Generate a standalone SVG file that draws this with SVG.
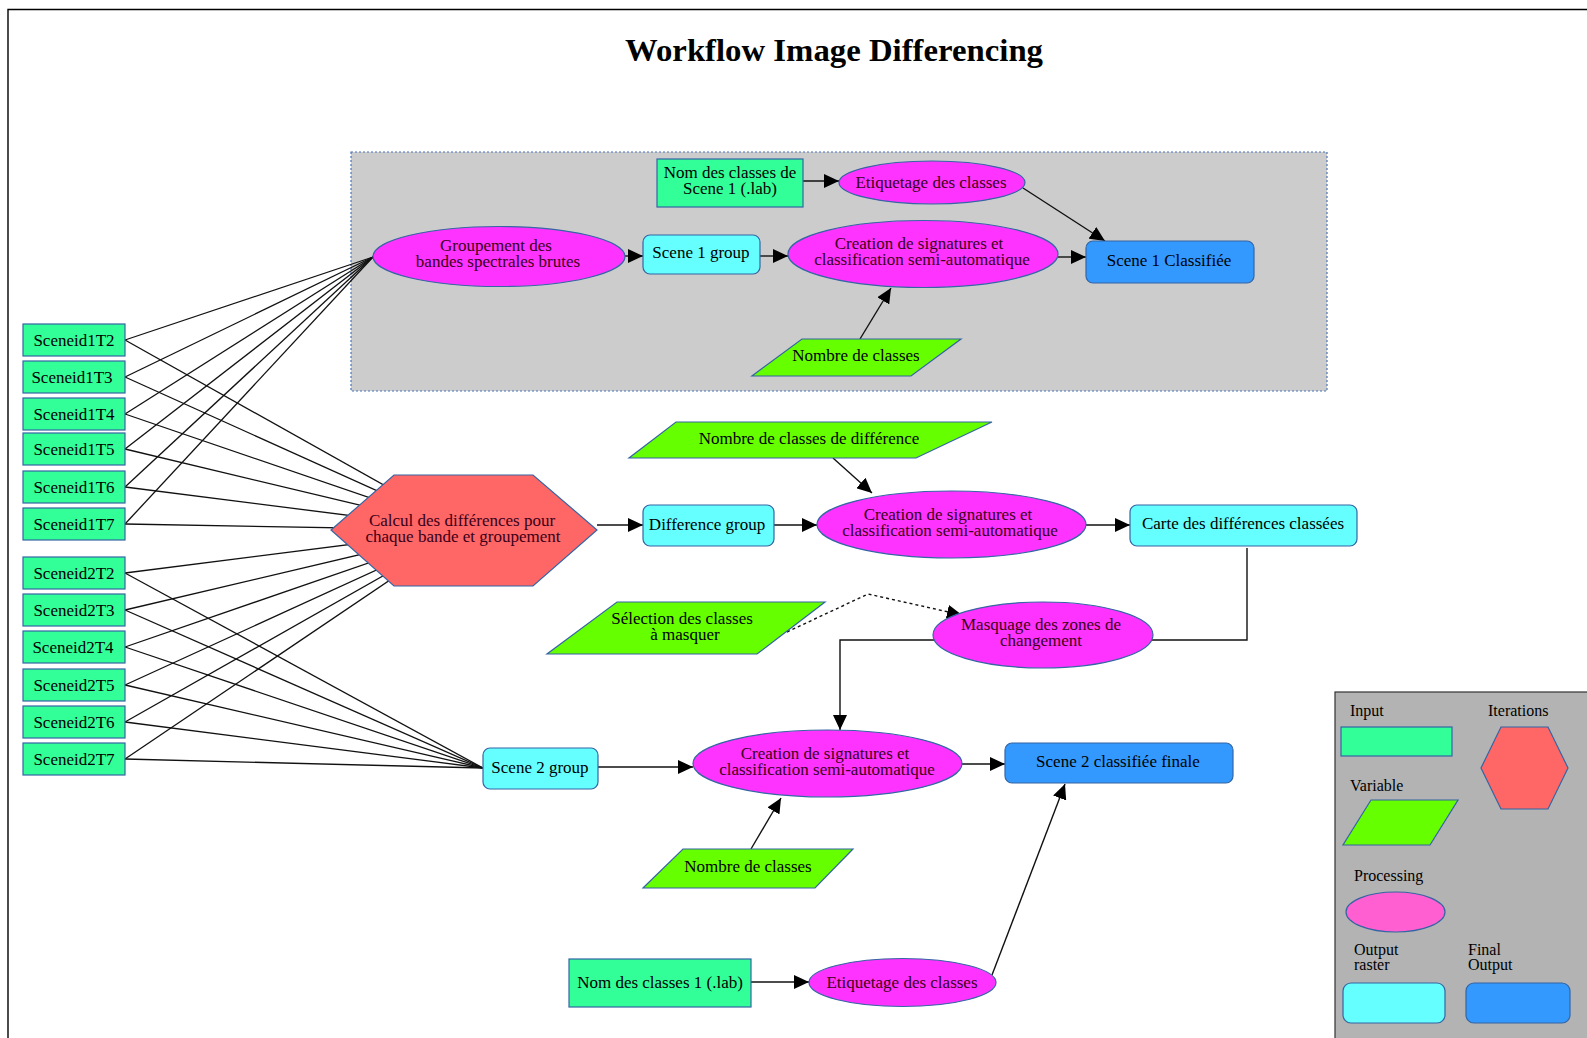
<svg xmlns="http://www.w3.org/2000/svg" width="1587" height="1038" viewBox="0 0 1587 1038">
<style>
text{font-family:"Liberation Serif","DejaVu Serif",serif;font-size:17px;text-anchor:middle;fill:#000}
.title{font-size:32px;font-weight:bold}
.pt{fill:#3a0018}
.inp{fill:#33ff99;stroke:#3465a4;stroke-width:1.2}
.var{fill:#66ff00;stroke:#3465a4;stroke-width:1.2}
.proc{fill:#ff33ff;stroke:#3465a4;stroke-width:1.2}
.out{fill:#66ffff;stroke:#3465a4;stroke-width:1.2}
.fin{fill:#3399ff;stroke:#3465a4;stroke-width:1.2}
.iter{fill:#ff6666;stroke:#3465a4;stroke-width:1.2}
.ln{stroke:#111;stroke-width:1.3;fill:none}
.ar{stroke:#111;stroke-width:1.4;fill:none;marker-end:url(#ah)}
.dot{stroke:#111;stroke-width:1.4;fill:none;stroke-dasharray:3 3;marker-end:url(#ah)}
.lg{text-anchor:start;font-size:16px}
</style>
<defs>
<marker id="ah" markerUnits="userSpaceOnUse" markerWidth="16" markerHeight="14" refX="15" refY="7" orient="auto">
<path d="M0,0 L15,7 L0,14 z" fill="#000"/>
</marker>
</defs>
<rect width="1587" height="1038" fill="#fff"/>
<path d="M8,1038 L8,9.5 L1587,9.5" fill="none" stroke="#000" stroke-width="1.4"/>
<text class="title" x="834" y="61" textLength="418" lengthAdjust="spacingAndGlyphs">Workflow Image Differencing</text>

<g id="cluster1">
<rect x="351" y="152" width="976" height="239" fill="#cccccc" stroke="#4a74b5" stroke-width="1.2" stroke-dasharray="2 2"/>
</g>

<g id="connectors">
<line class="ln" x1="125" y1="340" x2="373" y2="257"/>
<line class="ln" x1="125" y1="377" x2="373" y2="257"/>
<line class="ln" x1="125" y1="414" x2="373" y2="257"/>
<line class="ln" x1="125" y1="449" x2="373" y2="257"/>
<line class="ln" x1="125" y1="487" x2="373" y2="257"/>
<line class="ln" x1="125" y1="524" x2="373" y2="257"/>
<line class="ln" x1="125" y1="340" x2="464" y2="530"/>
<line class="ln" x1="125" y1="377" x2="464" y2="530"/>
<line class="ln" x1="125" y1="414" x2="464" y2="530"/>
<line class="ln" x1="125" y1="449" x2="464" y2="530"/>
<line class="ln" x1="125" y1="487" x2="464" y2="530"/>
<line class="ln" x1="125" y1="524" x2="464" y2="530"/>
<line class="ln" x1="125" y1="573" x2="464" y2="530"/>
<line class="ln" x1="125" y1="610" x2="464" y2="530"/>
<line class="ln" x1="125" y1="647" x2="464" y2="530"/>
<line class="ln" x1="125" y1="685" x2="464" y2="530"/>
<line class="ln" x1="125" y1="722" x2="464" y2="530"/>
<line class="ln" x1="125" y1="759" x2="464" y2="530"/>
<line class="ln" x1="125" y1="573" x2="483" y2="768"/>
<line class="ln" x1="125" y1="610" x2="483" y2="768"/>
<line class="ln" x1="125" y1="647" x2="483" y2="768"/>
<line class="ln" x1="125" y1="685" x2="483" y2="768"/>
<line class="ln" x1="125" y1="722" x2="483" y2="768"/>
<line class="ln" x1="125" y1="759" x2="483" y2="768"/>
<path class="ar" d="M803,181 L839,181"/>
<path class="ar" d="M1023,188 L1105,241"/>
<path class="ar" d="M624,256 L643,256"/>
<path class="ar" d="M760,256 L788,256"/>
<path class="ar" d="M1058,257 L1086,257"/>
<path class="ar" d="M860,339 L891,288"/>
<path class="ar" d="M833,458 L872,493"/>
<path class="ar" d="M597,525 L643,525"/>
<path class="ar" d="M774,525 L817,525"/>
<path class="ar" d="M1086,525 L1130,525"/>
<path class="dot" d="M787,632 L868,594 L962,615"/>
<path class="ar" d="M1247,548 L1247,640 L840,640 L840,730"/>
<path class="ar" d="M598,767 L693,767"/>
<path class="ar" d="M962,764 L1005,764"/>
<path class="ar" d="M751,849 L781,798"/>
<path class="ar" d="M751,982 L809,982"/>
<path class="ar" d="M992,975 L1065,784"/>
</g>

<g id="nom_classes_scene1"><rect class="inp" x="657" y="159" width="146" height="48"/><text x="730" y="178">Nom des classes de</text><text x="730" y="194">Scene 1 (.lab)</text></g>
<g id="etiquetage1"><ellipse class="proc" cx="932" cy="182.5" rx="93" ry="21.5"/><text class="pt" x="931" y="188">Etiquetage des classes</text></g>
<g id="groupement"><ellipse class="proc" cx="499" cy="256.5" rx="126" ry="30"/><text class="pt" x="496" y="251">Groupement des</text><text class="pt" x="498" y="267">bandes spectrales brutes</text></g>
<g id="scene1_group"><rect class="out" x="643" y="235" width="117" height="39" rx="7"/><text x="701" y="258">Scene 1 group</text></g>
<g id="creation1"><ellipse class="proc" cx="923" cy="254" rx="135" ry="33.5"/><text class="pt" x="919" y="249">Creation de signatures et</text><text class="pt" x="922" y="265">classification semi-automatique</text></g>
<g id="scene1_classifiee"><rect class="fin" x="1086" y="241" width="168" height="42" rx="7"/><text x="1169" y="266">Scene 1 Classifiée</text></g>
<g id="nombre_classes1"><polygon class="var" points="802,339 961,339 911,376 752,376"/><text x="856" y="361">Nombre de classes</text></g>

<g id="sceneid1T2"><rect class="inp" x="23" y="324" width="102" height="32"/><text x="74" y="346">Sceneid1T2</text></g>
<g id="sceneid1T3"><rect class="inp" x="23" y="361" width="102" height="32"/><text x="72" y="383">Sceneid1T3</text></g>
<g id="sceneid1T4"><rect class="inp" x="23" y="398" width="102" height="32"/><text x="74" y="420">Sceneid1T4</text></g>
<g id="sceneid1T5"><rect class="inp" x="23" y="433" width="102" height="32"/><text x="74" y="455">Sceneid1T5</text></g>
<g id="sceneid1T6"><rect class="inp" x="23" y="471" width="102" height="32"/><text x="74" y="493">Sceneid1T6</text></g>
<g id="sceneid1T7"><rect class="inp" x="23" y="508" width="102" height="32"/><text x="74" y="530">Sceneid1T7</text></g>
<g id="sceneid2T2"><rect class="inp" x="23" y="557" width="102" height="32"/><text x="74" y="579">Sceneid2T2</text></g>
<g id="sceneid2T3"><rect class="inp" x="23" y="594" width="102" height="32"/><text x="74" y="616">Sceneid2T3</text></g>
<g id="sceneid2T4"><rect class="inp" x="23" y="631" width="102" height="32"/><text x="73" y="653">Sceneid2T4</text></g>
<g id="sceneid2T5"><rect class="inp" x="23" y="669" width="102" height="32"/><text x="74" y="691">Sceneid2T5</text></g>
<g id="sceneid2T6"><rect class="inp" x="23" y="706" width="102" height="32"/><text x="74" y="728">Sceneid2T6</text></g>
<g id="sceneid2T7"><rect class="inp" x="23" y="743" width="102" height="32"/><text x="74" y="765">Sceneid2T7</text></g>

<g id="calcul"><polygon class="iter" points="331,530 394,475 533,475 597,530 533,586 394,586"/><text class="pt" x="462" y="526">Calcul des différences pour</text><text class="pt" x="463" y="542">chaque bande et groupement</text></g>
<g id="nombre_classes_diff"><polygon class="var" points="676,422 992,422 916,458 629,458"/><text x="809" y="444">Nombre de classes de différence</text></g>
<g id="difference_group"><rect class="out" x="643" y="505" width="131" height="41" rx="7"/><text x="707" y="530">Difference group</text></g>
<g id="creation2"><ellipse class="proc" cx="951.5" cy="524.5" rx="134.5" ry="33.5"/><text class="pt" x="948" y="520">Creation de signatures et</text><text class="pt" x="950" y="536">classification semi-automatique</text></g>
<g id="carte_differences"><rect class="out" x="1130" y="505" width="227" height="41" rx="7"/><text x="1243" y="529">Carte des différences classées</text></g>
<g id="selection_classes"><polygon class="var" points="617,602 825,602 757,654 547,654"/><text x="682" y="624">Sélection des classes</text><text x="685" y="640">à masquer</text></g>
<g id="masquage"><ellipse class="proc" cx="1043" cy="635" rx="110" ry="33"/><text class="pt" x="1041" y="630">Masquage des zones de</text><text class="pt" x="1041" y="646">changement</text></g>
<g id="scene2_group"><rect class="out" x="483" y="748" width="115" height="41" rx="7"/><text x="540" y="773">Scene 2 group</text></g>
<g id="creation3"><ellipse class="proc" cx="827.5" cy="763.5" rx="134.5" ry="33.5"/><text class="pt" x="825" y="759">Creation de signatures et</text><text class="pt" x="827" y="775">classification semi-automatique</text></g>
<g id="scene2_finale"><rect class="fin" x="1005" y="743" width="228" height="40" rx="7"/><text x="1118" y="767">Scene 2 classifiée finale</text></g>
<g id="nombre_classes2"><polygon class="var" points="683,849 853,849 815,888 643,888"/><text x="748" y="872">Nombre de classes</text></g>
<g id="nom_classes1"><rect class="inp" x="569" y="959" width="182" height="48"/><text x="660" y="988">Nom des classes 1 (.lab)</text></g>
<g id="etiquetage2"><ellipse class="proc" cx="902.5" cy="982.5" rx="93.5" ry="24"/><text class="pt" x="902" y="988">Etiquetage des classes</text></g>

<g id="legend">
<rect x="1335" y="692" width="260" height="360" fill="#b3b3b3" stroke="#333" stroke-width="1.2"/>
<text class="lg" x="1350" y="716">Input</text>
<rect class="inp" x="1341" y="727" width="111" height="29"/>
<text class="lg" x="1488" y="716">Iterations</text>
<polygon class="iter" points="1481,768 1501,727 1548,727 1568,768 1548,809 1501,809"/>
<text class="lg" x="1350" y="791">Variable</text>
<polygon class="var" points="1371,800 1458,800 1430,845 1343,845"/>
<text class="lg" x="1354" y="881">Processing</text>
<ellipse cx="1395.5" cy="912" rx="49.5" ry="20" fill="#ff5fd0" stroke="#3465a4" stroke-width="1.2"/>
<text class="lg" x="1354" y="955">Output</text>
<text class="lg" x="1354" y="970">raster</text>
<text class="lg" x="1468" y="955">Final</text>
<text class="lg" x="1468" y="970">Output</text>
<rect class="out" x="1343" y="983" width="102" height="40" rx="8"/>
<rect class="fin" x="1466" y="983" width="104" height="40" rx="8"/>
</g>
</svg>
